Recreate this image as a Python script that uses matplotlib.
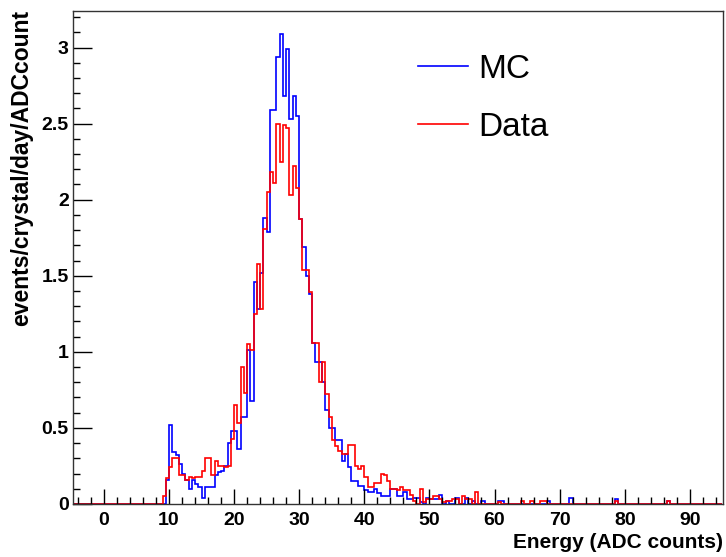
import numpy as np
import matplotlib
matplotlib.use('Agg')
import matplotlib.pyplot as plt
from matplotlib.ticker import MultipleLocator, FuncFormatter

# histogram binning (ADC counts)
bin_width = 0.5
e_lo, e_hi = -5.0, 95.0
start = 9.0  # energy of the first bin in the lists below

# MC, events/crystal/day/ADCcount, bins from 9.0 to 59.5
mc = [
    0.00, 0.16, 0.52, 0.34, 0.32, 0.26, 0.20, 0.16, 0.10, 0.16,   # 9.0 - 13.5
    0.13, 0.11, 0.04, 0.11, 0.11, 0.11, 0.19, 0.21, 0.22, 0.25,   # 14.0 - 18.5
    0.40, 0.48, 0.48, 0.36, 0.57, 0.57, 1.01, 0.68, 1.46, 1.28,   # 19.0 - 23.5
    1.52, 1.88, 1.79, 2.59, 2.59, 2.94, 3.09, 2.68, 2.99, 2.53,   # 24.0 - 28.5
    2.68, 2.55, 1.87, 1.69, 1.50, 1.38, 1.06, 0.93, 0.93, 0.80,   # 29.0 - 33.5
    0.62, 0.50, 0.50, 0.42, 0.42, 0.28, 0.33, 0.24, 0.15, 0.15,   # 34.0 - 38.5
    0.12, 0.12, 0.09, 0.08, 0.08, 0.10, 0.07, 0.05, 0.05, 0.05,   # 39.0 - 43.5
    0.10, 0.10, 0.05, 0.05, 0.08, 0.03, 0.03, 0.04, 0.04, 0.01,   # 44.0 - 48.5
    0.00, 0.04, 0.03, 0.03, 0.03, 0.06, 0.00, 0.02, 0.00, 0.00,   # 49.0 - 53.5
    0.04, 0.00, 0.00, 0.04, 0.00, 0.02, 0.00, 0.00, 0.02, 0.00,   # 54.0 - 58.5
    0.00, 0.00,                                                   # 59.0 - 59.5
]
# Data, same bins
data = [
    0.05, 0.17, 0.24, 0.30, 0.30, 0.19, 0.19, 0.16, 0.18, 0.17,   # 9.0 - 13.5
    0.18, 0.18, 0.22, 0.30, 0.30, 0.19, 0.28, 0.25, 0.25, 0.24,   # 14.0 - 18.5
    0.25, 0.43, 0.65, 0.53, 0.90, 0.73, 1.05, 1.01, 1.25, 1.58,   # 19.0 - 23.5
    1.28, 1.81, 2.05, 2.18, 2.11, 2.50, 2.25, 2.49, 2.47, 2.03,   # 24.0 - 28.5
    2.22, 2.08, 1.87, 1.54, 1.54, 1.39, 1.06, 1.06, 0.80, 0.93,   # 29.0 - 33.5
    0.72, 0.57, 0.42, 0.38, 0.35, 0.33, 0.33, 0.39, 0.39, 0.25,   # 34.0 - 38.5
    0.23, 0.25, 0.18, 0.11, 0.11, 0.14, 0.14, 0.20, 0.19, 0.15,   # 39.0 - 43.5
    0.10, 0.10, 0.09, 0.11, 0.09, 0.09, 0.06, 0.02, 0.00, 0.10,   # 44.0 - 48.5
    0.01, 0.03, 0.03, 0.05, 0.05, 0.03, 0.01, 0.02, 0.02, 0.03,   # 49.0 - 53.5
    0.03, 0.00, 0.05, 0.03, 0.03, 0.00, 0.08, 0.00, 0.00, 0.00,   # 54.0 - 58.5
    0.00, 0.00,                                                   # 59.0 - 59.5
]
# isolated entries in the far tail
mc_tail_e = [60.5, 61.0, 68.0, 71.5, 78.5, 86.5]
mc_tail = [0.02, 0.02, 0.02, 0.04, 0.03, 0.02]
data_tail_e = [60.5, 64.0, 65.5, 67.0, 67.5, 78.5, 86.5]
data_tail = [0.01, 0.02, 0.02, 0.02, 0.02, 0.02, 0.02]

edges = np.arange(e_lo, e_hi + bin_width / 2, bin_width)


def fill_hist(main, tail_e, tail_v):
    h = np.zeros(len(edges) - 1)
    i0 = int(round((start - e_lo) / bin_width))
    h[i0:i0 + len(main)] = main
    for e, v in zip(tail_e, tail_v):
        h[int(round((e - e_lo) / bin_width))] = v
    return h


h_mc = fill_hist(mc, mc_tail_e, mc_tail)
h_data = fill_hist(data, data_tail_e, data_tail)

plt.rcParams['font.family'] = ['Liberation Sans', 'DejaVu Sans']

fig = plt.figure(figsize=(7.26, 5.57), dpi=100)
ax = fig.add_axes([73 / 726, 1 - 504 / 557, (723 - 73) / 726, (504 - 11) / 557])

ax.stairs(h_mc, edges, color='blue', lw=1.2, label='MC')
ax.stairs(h_data, edges, color='red', lw=1.2, label='Data')

ax.set_xlim(-4.75, 95.1)
ax.set_ylim(0, 3.24)

ax.xaxis.set_major_locator(MultipleLocator(10))
ax.xaxis.set_minor_locator(MultipleLocator(2))
ax.yaxis.set_major_locator(MultipleLocator(0.5))
ax.yaxis.set_minor_locator(MultipleLocator(0.1))
ax.yaxis.set_major_formatter(FuncFormatter(lambda v, p: '%g' % v))

ax.tick_params(axis='x', which='major', direction='in', length=10.8, width=1, labelsize=14, pad=6)
ax.tick_params(axis='x', which='minor', direction='in', length=5, width=1)
ax.tick_params(axis='y', which='major', direction='in', length=14, width=1, labelsize=14, pad=3)
ax.tick_params(axis='y', which='minor', direction='in', length=5, width=1)
for lab in ax.get_xticklabels() + ax.get_yticklabels():
    lab.set_fontweight('bold')
for sp in ax.spines.values():
    sp.set_linewidth(1)
    sp.set_color('#333333')

ax.set_xlabel('Energy (ADC counts)', loc='right', fontsize=15, fontweight='bold', labelpad=3)
ax.set_ylabel('events/crystal/day/ADCcount', loc='top', fontsize=16.5, fontweight='bold')
ax.yaxis.set_label_coords(-0.0615, 1.002)

ax.legend(loc='upper left', bbox_to_anchor=(418 / 726, 1 - 54 / 557), bbox_transform=fig.transFigure,
          frameon=False, fontsize=24, handlelength=1.5, handletextpad=0.3,
          labelspacing=0.8, borderpad=0, borderaxespad=0)

fig.savefig('out.png', dpi=100)
